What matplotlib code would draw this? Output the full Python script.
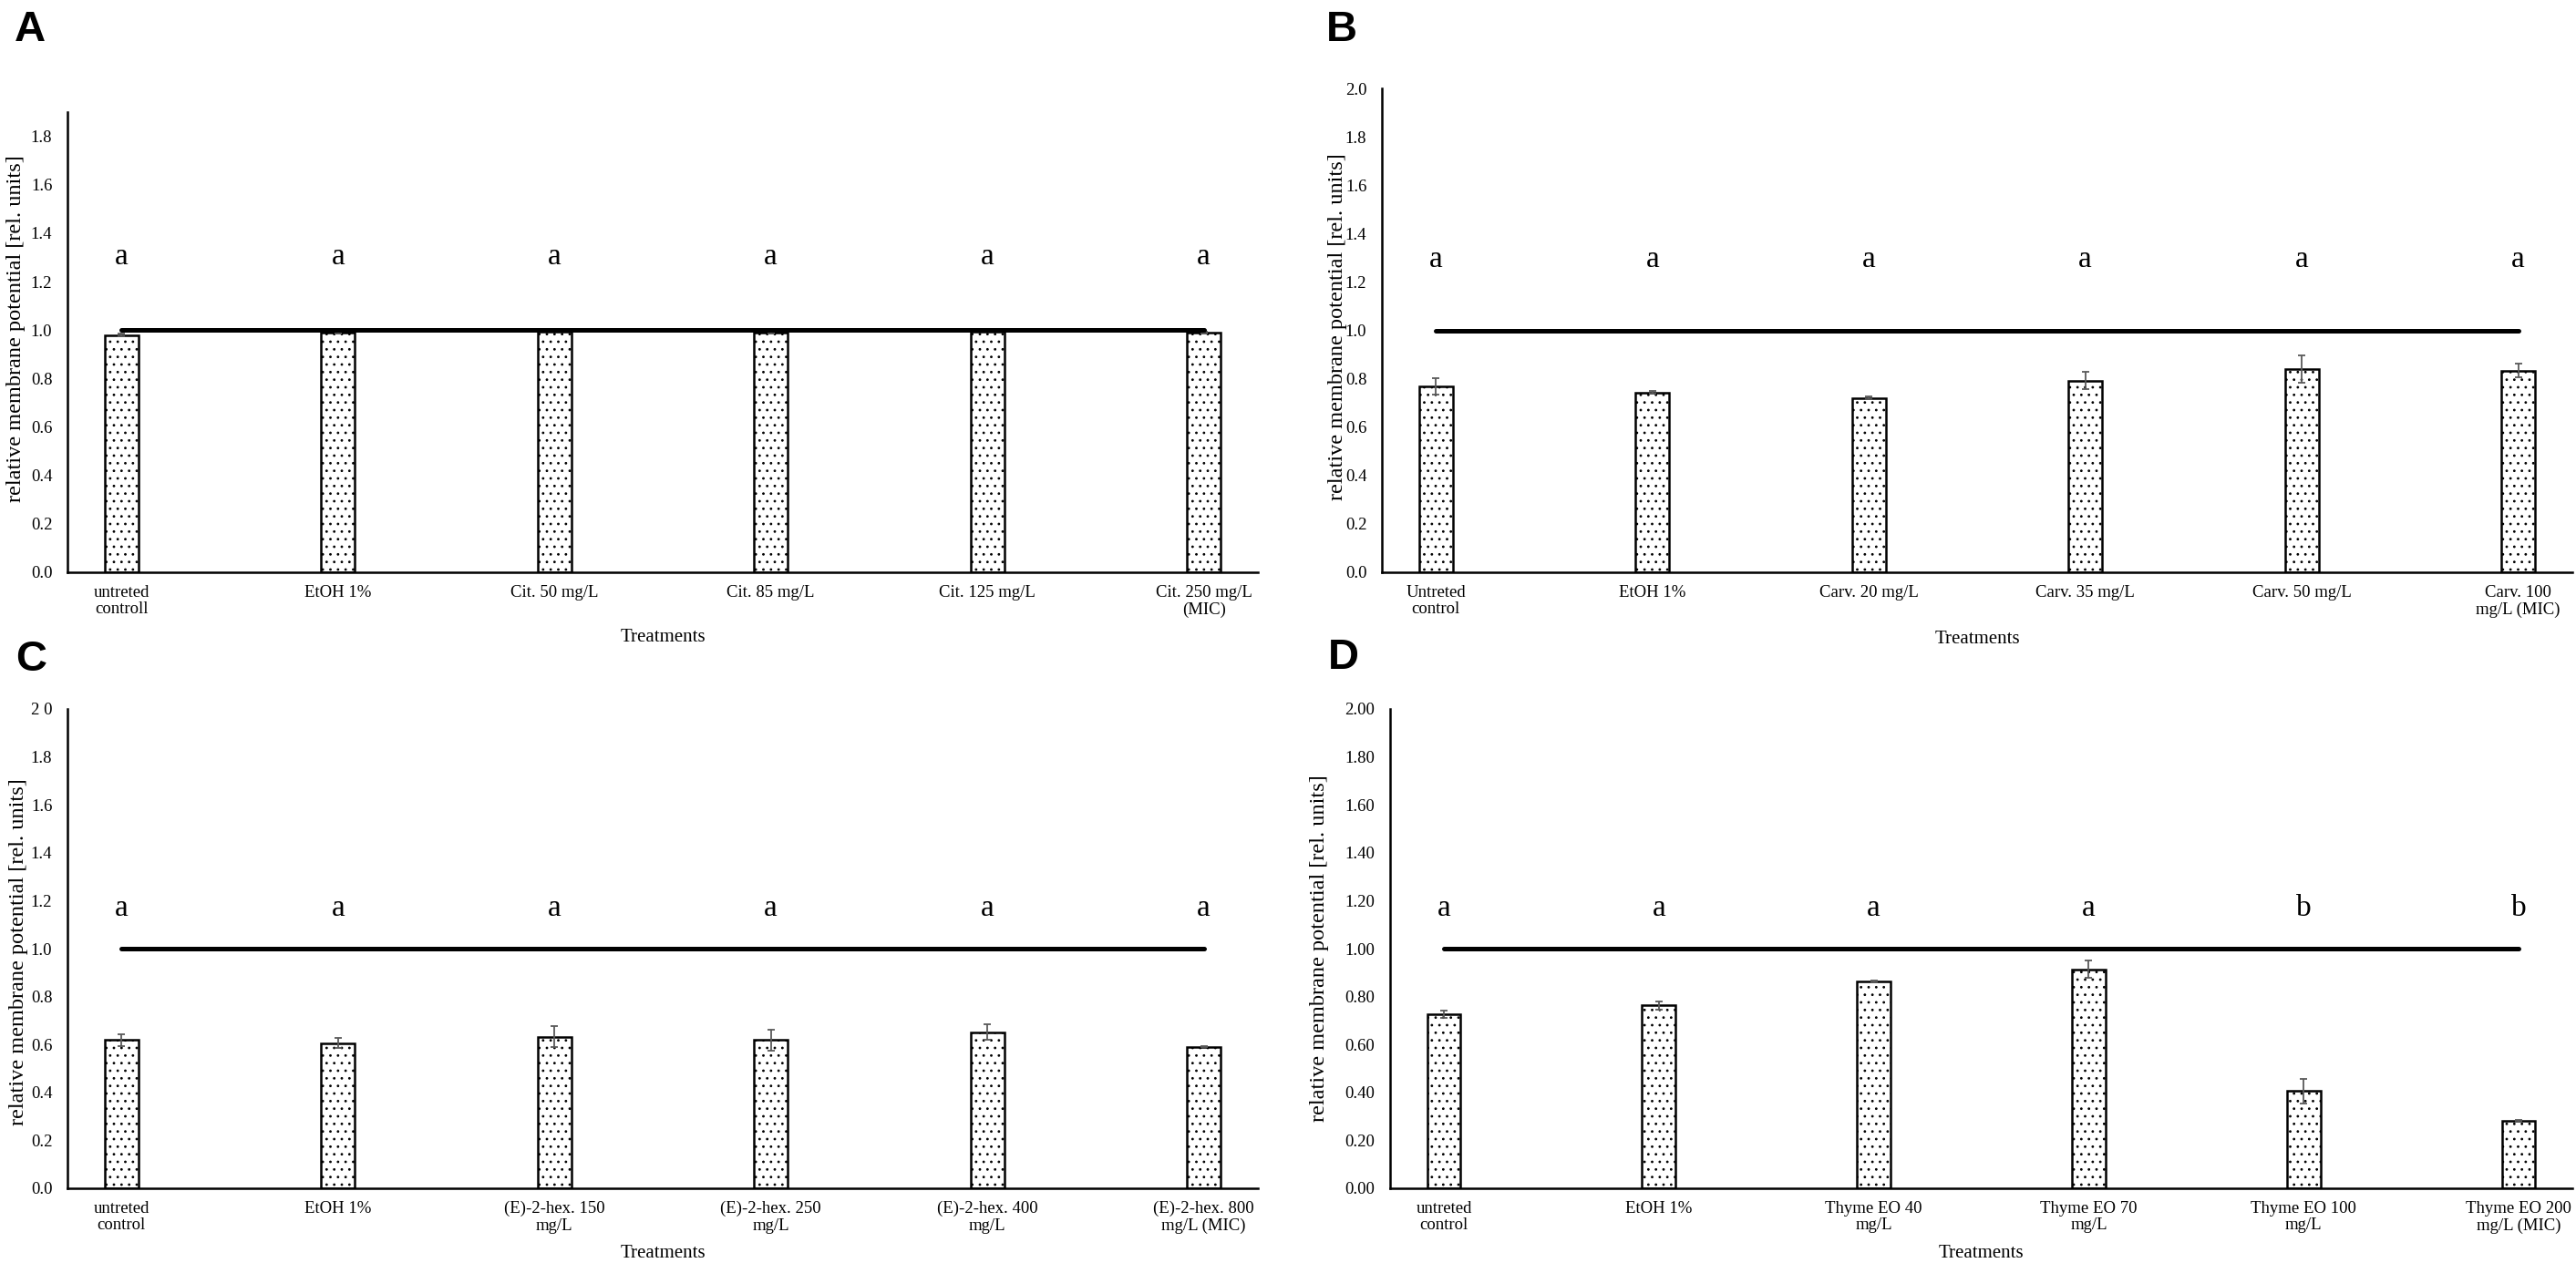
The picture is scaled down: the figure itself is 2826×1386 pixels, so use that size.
import numpy as np
import matplotlib
matplotlib.use("Agg")
import matplotlib.pyplot as plt

plt.rcParams['font.family'] = ['Liberation Serif', 'DejaVu Serif']
plt.rcParams['hatch.linewidth'] = 0.8

# ── data ──────────────────────────────────────────────────────────────────
labels_a = ["untreted\ncontroll", "EtOH 1%", "Cit. 50 mg/L", "Cit. 85 mg/L",
            "Cit. 125 mg/L", "Cit. 250 mg/L\n(MIC)"]
values_a = [0.98, 0.99, 0.995, 0.99, 0.995, 0.99]
errors_a = [0.004, 0.004, 0.003, 0.003, 0.003, 0.003]
letters_a = ["a", "a", "a", "a", "a", "a"]

labels_b = ["Untreted\ncontrol", "EtOH 1%", "Carv. 20 mg/L", "Carv. 35 mg/L",
            "Carv. 50 mg/L", "Carv. 100\nmg/L (MIC)"]
values_b = [0.768, 0.743, 0.720, 0.792, 0.841, 0.833]
errors_b = [0.035, 0.006, 0.006, 0.035, 0.057, 0.028]
letters_b = ["a", "a", "a", "a", "a", "a"]

labels_c = ["untreted\ncontrol", "EtOH 1%", "(E)-2-hex. 150\nmg/L",
            "(E)-2-hex. 250\nmg/L", "(E)-2-hex. 400\nmg/L",
            "(E)-2-hex. 800\nmg/L (MIC)"]
values_c = [0.618, 0.606, 0.633, 0.618, 0.652, 0.591]
errors_c = [0.024, 0.022, 0.043, 0.042, 0.034, 0.003]
letters_c = ["a", "a", "a", "a", "a", "a"]

labels_d = ["untreted\ncontrol", "EtOH 1%", "Thyme EO 40\nmg/L", "Thyme EO 70\nmg/L",
            "Thyme EO 100\nmg/L", "Thyme EO 200\nmg/L (MIC)"]
values_d = [0.726, 0.763, 0.862, 0.914, 0.405, 0.283]
errors_d = [0.015, 0.018, 0.004, 0.037, 0.053, 0.004]
letters_d = ["a", "a", "a", "a", "b", "b"]

ref_level = 1.0

W, H = 2826, 1386
fig = plt.figure(figsize=(W / 100, H / 100), dpi=100)


def px_axes(left, right, top, bottom):
    return fig.add_axes([left / W, 1 - bottom / H, (right - left) / W, (bottom - top) / H])


def panel(ax, labels, values, errors, letters, ymax, yticks, yfmt,
          letter_y, ylab_x, ylab_y, xlab_y):
    x = np.arange(len(values))
    ax.bar(x, values, width=0.156, color="white", edgecolor="black",
           linewidth=1.8, hatch="..", zorder=2)
    ax.errorbar(x, values, yerr=errors, fmt="none", ecolor="#595959",
                elinewidth=1.3, capsize=3, capthick=1.3, zorder=3)
    ax.plot([x[0], x[-1]], [ref_level, ref_level], color="black", lw=3.6,
            solid_capstyle="round", zorder=4)
    for xi, s in zip(x, letters):
        ax.text(xi, letter_y, s, ha="center", va="baseline", fontsize=24)

    ax.set_xlim(-0.25, len(values) - 0.75)
    ax.set_ylim(0, ymax)
    ax.set_yticks(yticks)
    ax.set_yticklabels([yfmt(v) for v in yticks], fontsize=13.5)
    ax.set_xticks(x)
    ax.set_xticklabels(labels, fontsize=13.5, linespacing=1.1)
    ax.tick_params(axis="y", length=0, pad=12)
    ax.tick_params(axis="x", length=0, pad=10)
    for side in ("top", "right"):
        ax.spines[side].set_visible(False)
    for side in ("left", "bottom"):
        ax.spines[side].set_linewidth(1.8)
    ax.text(ylab_x, ylab_y, "relative membrane potential [rel. units]",
            transform=ax.transAxes, rotation=90, ha="center", va="center",
            fontsize=17.5)
    ax.text(0.5, xlab_y, "Treatments", transform=ax.transAxes,
            ha="center", va="center", fontsize=15)


ax_a = px_axes(74, 1380, 123, 628)
ax_b = px_axes(1516, 2822, 97, 628)
ax_c = px_axes(74, 1380, 778, 1304)
ax_d = px_axes(1525, 2822, 778, 1304)

one_dec = lambda v: f"{v:.1f}"
ticks_a = np.round(np.arange(0, 1.81, 0.2), 1)
ticks_2 = np.round(np.arange(0, 2.01, 0.2), 1)

panel(ax_a, labels_a, values_a, errors_a, letters_a, 1.9, ticks_a, one_dec,
      1.27, -0.043, 0.529, -72 / 505)
panel(ax_b, labels_b, values_b, errors_b, letters_b, 2.0, ticks_2, one_dec,
      1.26, -0.037, 0.508, -73 / 531)
panel(ax_c, labels_c, values_c, errors_c, letters_c, 2.0, ticks_2,
      lambda v: "2 0" if v == 2.0 else f"{v:.1f}",
      1.135, -0.041, 0.494, -71 / 526)
panel(ax_d, labels_d, values_d, errors_d, letters_d, 2.0, ticks_2,
      lambda v: f"{v:.2f}", 1.135, -0.060, 0.50, -71 / 526)

for s, (px, py) in zip("ABCD", [(16, 11), (1455, 11), (17, 702), (1457, 700)]):
    fig.text(px / W, 1 - py / H, s, ha="left", va="top", fontsize=34,
             fontweight="bold", family=["Liberation Sans", "DejaVu Sans"])

fig.savefig("out.png", dpi=100)
